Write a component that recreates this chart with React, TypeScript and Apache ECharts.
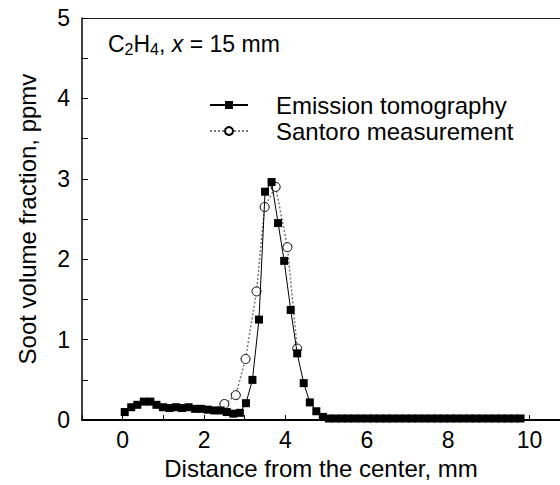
import React, { useEffect, useRef } from "react";
import * as echarts from "echarts";

const emissionX = [
  0.05, 0.21, 0.36, 0.52, 0.68, 0.83, 0.99, 1.15, 1.31, 1.46,
  1.62, 1.78, 1.93, 2.09, 2.25, 2.41, 2.56, 2.72, 2.88, 3.03,
  3.19, 3.35, 3.5, 3.66, 3.82, 3.97, 4.13, 4.29, 4.45, 4.6,
  4.76, 4.92, 5.07, 5.23, 5.39, 5.54, 5.7, 5.86, 6.02, 6.17,
  6.33, 6.49, 6.64, 6.8, 6.96, 7.11, 7.27, 7.43, 7.59, 7.74,
  7.9, 8.06, 8.21, 8.37, 8.53, 8.68, 8.84, 9.0, 9.16, 9.31,
  9.47, 9.63, 9.78,
];
const emissionY = [
  0.1, 0.16, 0.19, 0.23, 0.23, 0.19, 0.16, 0.15, 0.16, 0.15,
  0.16, 0.14, 0.14, 0.13, 0.12, 0.12, 0.1, 0.08, 0.09, 0.21,
  0.5, 1.25, 2.84, 2.96, 2.45, 1.98, 1.37, 0.83, 0.46, 0.22,
  0.11, 0.04, 0.02, 0.02, 0.02, 0.02, 0.02, 0.02, 0.02, 0.02,
  0.02, 0.02, 0.02, 0.02, 0.02, 0.02, 0.02, 0.02, 0.02, 0.02,
  0.02, 0.02, 0.02, 0.02, 0.02, 0.02, 0.02, 0.02, 0.02, 0.02,
  0.02, 0.02, 0.02,
];
const santoroX = [2.5, 2.78, 3.02, 3.29, 3.49, 3.76, 4.05, 4.29];
const santoroY = [0.2, 0.31, 0.76, 1.6, 2.65, 2.9, 2.15, 0.89];

const xLabels = ["0", "2", "4", "6", "8", "10"];
const yLabels = ["0", "1", "2", "3", "4", "5"];

const FONT = "Liberation Sans, Arial, sans-serif";

export default function App() {
  const ref = useRef<HTMLDivElement>(null);
  useEffect(() => {
    if (!ref.current) return;
    const chart = echarts.init(ref.current, null, { renderer: "svg" });
    const em = emissionX.map((x, i) => [x, emissionY[i]]);
    const sa = santoroX.map((x, i) => [x, santoroY[i]]);
    chart.setOption({
      animation: false,
      backgroundColor: "#fff",
      textStyle: { fontFamily: FONT },
      grid: { left: 82, right: 0, top: 18, bottom: 58 },
      xAxis: [
        {
          type: "value",
          min: -1,
          max: 10.75,
          interval: 1,
          name: "Distance from the center, mm",
          nameLocation: "middle",
          nameGap: 34,
          nameTextStyle: { fontSize: 24, color: "#000", fontFamily: FONT },
          axisLine: { onZero: false, lineStyle: { color: "#000", width: 2 } },
          axisTick: { inside: true, length: 5, lineStyle: { color: "#000", width: 1 } },
          splitLine: { show: false },
          axisLabel: {
            fontSize: 23,
            color: "#000",
            margin: 8,
            fontFamily: FONT,
            showMaxLabel: false,
            formatter: (v: number) => (xLabels.includes(String(v)) ? String(v) : ""),
          },
        },
        {
          type: "value",
          position: "top",
          min: -1,
          max: 10.75,
          axisLine: { show: true, onZero: false, lineStyle: { color: "#222", width: 1 } },
          axisTick: { show: false },
          axisLabel: { show: false },
          splitLine: { show: false },
        },
      ],
      yAxis: {
        type: "value",
        min: 0,
        max: 5,
        interval: 0.5,
        name: "Soot volume fraction, ppmv",
        nameLocation: "middle",
        nameGap: 43,
        nameTextStyle: { fontSize: 24, color: "#000", fontFamily: FONT },
        axisLine: { show: true, onZero: false, lineStyle: { color: "#000", width: 1.5 } },
        axisTick: { inside: true, length: 6, lineStyle: { color: "#000", width: 1 } },
        splitLine: { show: false },
        axisLabel: {
          fontSize: 23,
          color: "#000",
          margin: 12,
          fontFamily: FONT,
          formatter: (v: number) => (yLabels.includes(String(v)) ? String(v) : ""),
        },
      },
      legend: {
        orient: "vertical",
        left: 204,
        top: 88,
        itemWidth: 38,
        itemHeight: 10,
        itemGap: 2,
        textStyle: { fontSize: 24, color: "#000", fontFamily: FONT, padding: [0, 0, 0, 23] },
        data: ["Emission tomography", "Santoro measurement"],
      },
      graphic: [
        {
          type: "text",
          left: 108,
          top: 32,
          style: {
            text: "C{sub|2}H{sub|4}, {i|x} = 15 mm",
            fontSize: 23,
            fontFamily: FONT,
            fill: "#000",
            rich: {
              sub: { fontSize: 16, verticalAlign: "bottom", padding: [11, 0, 0, 0], fontFamily: FONT },
              i: { fontSize: 23, fontStyle: "italic", fontFamily: FONT },
            },
          },
        },
      ],
      series: [
        {
          name: "Emission tomography",
          type: "line",
          data: em,
          symbol: "rect",
          symbolSize: 8,
          itemStyle: { color: "#000" },
          lineStyle: { color: "#000", width: 1 },
          z: 3,
        },
        {
          name: "Santoro measurement",
          type: "line",
          data: sa,
          symbol: "circle",
          symbolSize: 9,
          itemStyle: { color: "#fff", borderColor: "#000", borderWidth: 1 },
          lineStyle: { color: "#777", width: 1.5, type: [2, 2] },
          z: 2,
        },
      ],
    });
    return () => chart.dispose();
  }, []);
  return (
    <div
      ref={ref}
      style={{ width: 560, height: 485, position: "absolute", left: 0, top: 0, overflow: "hidden" }}
    />
  );
}
